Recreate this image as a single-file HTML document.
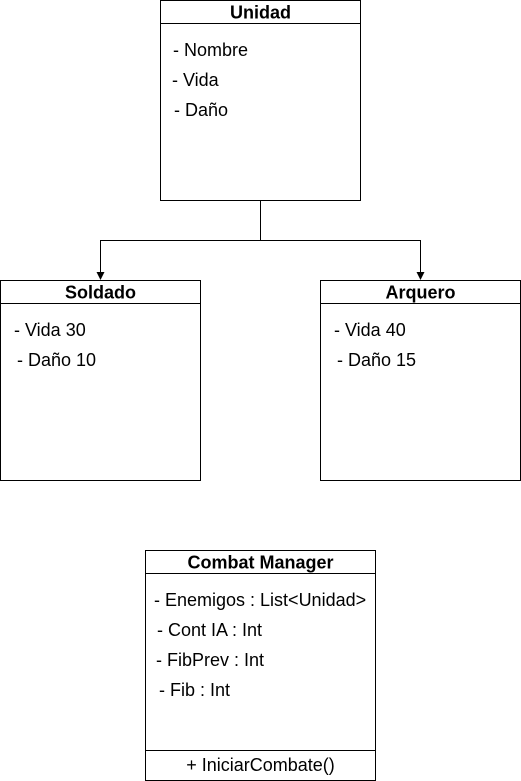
<!DOCTYPE html>
<html><head><meta charset="utf-8"><style>html,body{margin:0;padding:0;background:#fff}svg{display:block}</style></head>
<body>
<svg width="521" height="781" xmlns="http://www.w3.org/2000/svg" font-family="Liberation Sans, Arial, sans-serif" font-size="18" fill="#000">
<g fill="none" stroke="#000" stroke-width="1">
<rect x="160.5" y="0.5" width="200" height="200"/><line x1="160.5" y1="23.5" x2="360.5" y2="23.5"/>
<rect x="0.5" y="280.5" width="200" height="200"/><line x1="0.5" y1="303.5" x2="200.5" y2="303.5"/>
<rect x="320.5" y="280.5" width="200" height="200"/><line x1="320.5" y1="303.5" x2="520.5" y2="303.5"/>
<rect x="145.5" y="550.5" width="230" height="230"/><line x1="145.5" y1="573.5" x2="375.5" y2="573.5"/><line x1="145.5" y1="750.5" x2="375.5" y2="750.5"/>
<polyline points="260.5,200.5 260.5,240.5 100.5,240.5 100.5,274"/>
<polyline points="260.5,240.5 420.5,240.5 420.5,274"/>
</g>
<polygon points="96.5,272 104.5,272 100.5,280" fill="#000"/>
<polygon points="416.5,272 424.5,272 420.5,280" fill="#000"/>
<g font-weight="bold" text-anchor="middle">
<text x="260.5" y="18.5">Unidad</text>
<text x="100.5" y="298.5">Soldado</text>
<text x="420.5" y="298.5">Arquero</text>
<text x="260.5" y="568.5">Combat Manager</text>
</g>
<text x="173" y="56">- Nombre</text>
<text x="172" y="86">- Vida</text>
<text x="174" y="116">- Daño</text>
<text x="14" y="336">- Vida 30</text>
<text x="17" y="366">- Daño 10</text>
<text x="334" y="336">- Vida 40</text>
<text x="337" y="366">- Daño 15</text>
<text x="154" y="606">- Enemigos : List&lt;Unidad&gt;</text>
<text x="157" y="636">- Cont IA : Int</text>
<text x="156" y="666">- FibPrev : Int</text>
<text x="159" y="696">- Fib : Int</text>
<text x="260.5" y="771" text-anchor="middle">+ IniciarCombate()</text>
</svg>
</body></html>
